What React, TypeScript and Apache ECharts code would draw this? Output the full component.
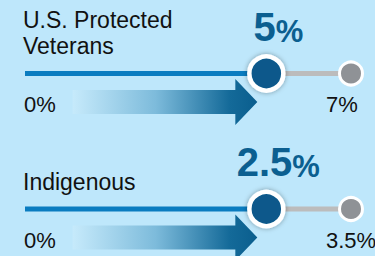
import React, { useEffect, useRef } from "react";
import * as echarts from "echarts";

const rowTitles = ["U.S. Protected\nVeterans", "Indigenous"];
const values = [5, 2.5];
const maxValues = [7, 3.5];
const minLabels = ["0%", "0%"];
const maxLabels = ["7%", "3.5%"];

const FONT = "'Liberation Sans', Arial, Helvetica, sans-serif";
const BG = "#bee7fb";
const BLUE = "#0a7cc0";
const DARK = "#07598b";
const TEXT_BLUE = "#0b5f90";
const GREY_LINE = "#bcbcbc";
const GREY_DOT = "#8f9296";

const gridTops = [73.5, 209];
const titleTops = [7, 143];

export default function App() {
  const ref = useRef<HTMLDivElement>(null);
  useEffect(() => {
    if (!ref.current) return;
    const chart = echarts.init(ref.current, null, { renderer: "svg" });
    const grids: any[] = [];
    const xAxes: any[] = [];
    const yAxes: any[] = [];
    const series: any[] = [];
    const graphics: any[] = [];

    values.forEach((v, i) => {
      const max = maxValues[i];
      const axisMin = -max * 0.1;
      grids.push({ left: 25, right: 24, top: gridTops[i], height: 40 });
      xAxes.push({ type: "value", gridIndex: i, min: axisMin, max, show: false });
      yAxes.push({ type: "value", gridIndex: i, min: 0, max: 1, show: false });
      // arrow
      series.push({
        type: "custom",
        xAxisIndex: i,
        yAxisIndex: i,
        clip: false,
        z: 1,
        data: [[v, 1]],
        renderItem: (params: any, api: any) => {
          const tip = api.coord([api.value(0), 1]);
          const zero = api.coord([0, 1]);
          const tx = tip[0] - 9;
          const cy = tip[1] + 28.5;
          const sx = zero[0] + 18;
          const hx = tx - 22;
          const pts = [
            [sx, cy - 12],
            [hx, cy - 12],
            [hx, cy - 23],
            [tx, cy],
            [hx, cy + 23],
            [hx, cy + 12],
            [sx, cy + 12],
          ];
          return {
            type: "polygon",
            shape: { points: pts },
            style: {
              fill: new echarts.graphic.LinearGradient(0, 0, 1, 0, [
                { offset: 0, color: "#c6eafb" },
                { offset: 0.45, color: "#7dbbdb" },
                { offset: 0.85, color: "#146a99" },
                { offset: 1, color: "#0a5e8e" },
              ]),
            },
          };
        },
      });
      // blue line
      series.push({
        type: "line",
        xAxisIndex: i,
        yAxisIndex: i,
        clip: false,
        z: 2,
        symbol: "none",
        lineStyle: { color: BLUE, width: 5 },
        data: [
          [axisMin, 1],
          [v, 1],
        ],
      });
      // grey line
      series.push({
        type: "line",
        xAxisIndex: i,
        yAxisIndex: i,
        clip: false,
        z: 2,
        symbol: "none",
        lineStyle: { color: GREY_LINE, width: 5 },
        data: [
          [v, 1],
          [max, 1],
        ],
      });
      // min label
      series.push({
        type: "scatter",
        xAxisIndex: i,
        yAxisIndex: i,
        clip: false,
        z: 3,
        symbolSize: 1,
        itemStyle: { color: "rgba(0,0,0,0)", opacity: 1 },
        label: {
          show: true,
          position: "inside",
          align: "left",
          verticalAlign: "middle",
          offset: [-1, 31],
          formatter: minLabels[i],
          fontFamily: FONT,
          fontSize: 22,
          color: "#111",
        },
        data: [[axisMin, 1]],
      });
      // max dot
      series.push({
        type: "scatter",
        xAxisIndex: i,
        yAxisIndex: i,
        clip: false,
        z: 4,
        symbolSize: 23,
        itemStyle: { color: GREY_DOT, borderColor: "#ffffff", borderWidth: 3, opacity: 1 },
        label: {
          show: true,
          position: "inside",
          align: "left",
          verticalAlign: "middle",
          offset: [-25, 31],
          formatter: maxLabels[i],
          fontFamily: FONT,
          fontSize: 22,
          color: "#111",
        },
        data: [[max, 1]],
      });
      // value dot
      series.push({
        type: "scatter",
        xAxisIndex: i,
        yAxisIndex: i,
        clip: false,
        z: 5,
        symbolSize: 34,
        itemStyle: {
          color: DARK,
          borderColor: "#ffffff",
          borderWidth: 4.5,
          opacity: 1,
          shadowBlur: 5,
          shadowColor: "rgba(0,0,0,0.35)",
        },
        label: {
          show: true,
          position: "inside",
          align: "center",
          verticalAlign: "middle",
          offset: [12, -47],
          formatter: "{v|" + String(v) + "}{p|%}",
          rich: {
            v: { fontFamily: FONT, fontSize: 40, fontWeight: "bold", color: TEXT_BLUE, lineHeight: 40, verticalAlign: "bottom" },
            p: { fontFamily: FONT, fontSize: 31, fontWeight: "bold", color: TEXT_BLUE, lineHeight: 33, verticalAlign: "bottom" },
          },
        },
        data: [[v, 1]],
      });
      graphics.push({
        type: "text",
        left: 23,
        top: titleTops[i] + (rowTitles[i].includes("\n") ? 0 : 26),
        style: {
          text: rowTitles[i],
          fontFamily: FONT,
          fontSize: 23,
          lineHeight: 26,
          fill: "#111",
        },
      });
    });

    chart.setOption({
      animation: false,
      backgroundColor: BG,
      grid: grids,
      xAxis: xAxes,
      yAxis: yAxes,
      series,
      graphic: graphics,
    });
    return () => chart.dispose();
  }, []);
  return (
    <div
      ref={ref}
      style={{ position: "fixed", left: 0, top: 0, width: 375, height: 256 }}
    />
  );
}
